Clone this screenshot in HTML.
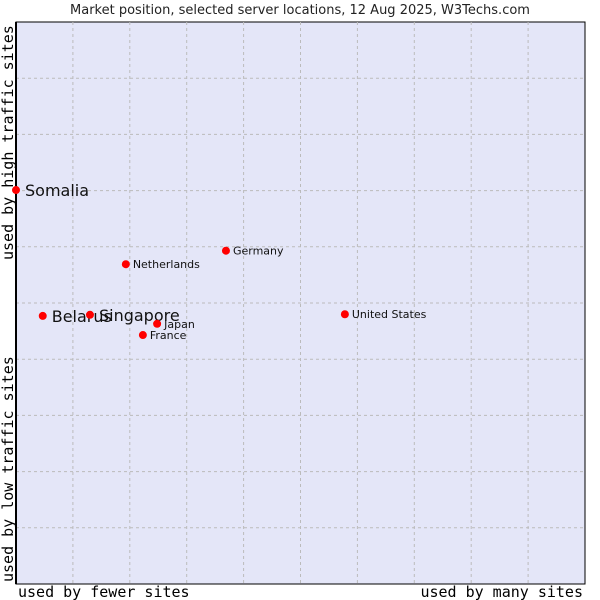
<!DOCTYPE html>
<html><head><meta charset="utf-8"><style>
html,body{margin:0;padding:0;background:#fff;}
svg{display:block;}
</style></head><body>
<svg id="chart" width="600" height="600" xmlns="http://www.w3.org/2000/svg">
<text x="300" y="14" text-anchor="middle" font-family="DejaVu Sans, sans-serif" font-size="13" fill="#222">Market position, selected server locations, 12 Aug 2025, W3Techs.com</text>
<rect x="16" y="22" width="569" height="562" fill="#e4e6f8" stroke="#000" stroke-width="1"/>
<g id="grid"></g>
<line x1="16" y1="22" x2="16" y2="584" stroke="#000" stroke-width="2"/>
<line x1="16" y1="584" x2="585" y2="584" stroke="#000" stroke-width="1"/>
<g id="points"></g>
<text x="18" y="597" font-family="DejaVu Sans Mono, monospace" font-size="15" fill="#000">used by fewer sites</text>
<text x="583" y="597" text-anchor="end" font-family="DejaVu Sans Mono, monospace" font-size="15" fill="#000">used by many sites</text>
<text transform="translate(13,582) rotate(-90)" font-family="DejaVu Sans Mono, monospace" font-size="15" fill="#000">used by low traffic sites</text>
<text transform="translate(13,260) rotate(-90)" font-family="DejaVu Sans Mono, monospace" font-size="15" fill="#000">used by high traffic sites</text>
</svg>
<script>
const names = ["Somalia","Belarus","Singapore","Japan","France","Netherlands","Germany","United States"];
const xValues = [0, 4.7, 13.0, 24.8, 22.3, 19.3, 36.9, 57.8];
const yValues = [70.1, 47.7, 47.9, 46.3, 44.3, 56.9, 59.3, 48.0];
const bigLabel = [true, true, true, false, false, false, false, false];
const X0=16, W=569, Y0=584, H=562;
const sx = v => X0 + v/100*W;
const sy = v => Y0 - v/100*H;
const NS="http://www.w3.org/2000/svg";
const grid=document.getElementById('grid');
for(let i=1;i<10;i++){
  const v=document.createElementNS(NS,'line');
  v.setAttribute('x1',sx(i*10));v.setAttribute('x2',sx(i*10));v.setAttribute('y1',22);v.setAttribute('y2',584);
  v.setAttribute('stroke','#bbb');v.setAttribute('stroke-dasharray','3,3');
  
  
  grid.appendChild(v);
  const h=document.createElementNS(NS,'line');
  h.setAttribute('y1',sy(i*10));h.setAttribute('y2',sy(i*10));h.setAttribute('x1',16);h.setAttribute('x2',585);
  h.setAttribute('stroke','#bbb');h.setAttribute('stroke-dasharray','3,3');
  
  
  grid.appendChild(h);
}
const pts=document.getElementById('points');
names.forEach((n,i)=>{
  const x=sx(xValues[i]), y=sy(yValues[i]);
  const c=document.createElementNS(NS,'circle');
  c.setAttribute('cx',x);c.setAttribute('cy',y);c.setAttribute('r',4);c.setAttribute('fill','#f00');
  
  
  pts.appendChild(c);
  const t=document.createElementNS(NS,'text');
  t.setAttribute('x',x+(bigLabel[i]?9:7));t.setAttribute('y',y+(bigLabel[i]?6:4));
  t.setAttribute('font-family','DejaVu Sans, sans-serif');
  t.setAttribute('font-size',bigLabel[i]?16:11);t.setAttribute('fill','#111');
  t.textContent=n;
  
  
  pts.appendChild(t);
});
</script>
</body></html>
